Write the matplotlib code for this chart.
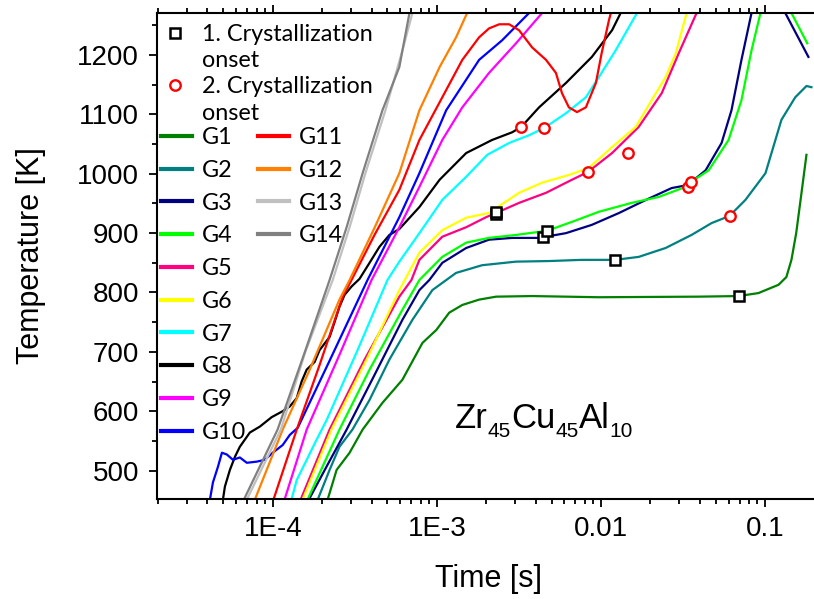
import matplotlib
matplotlib.use("Agg")
import matplotlib.pyplot as plt
from matplotlib.lines import Line2D
from matplotlib.ticker import FixedLocator, LogLocator, MultipleLocator, NullFormatter

plt.rcParams["font.family"] = ["Liberation Sans", "DejaVu Sans"]

# ---- cooling curves: time [s] and temperature [K] ----
t_G1 = [2.16e-4, 2.45e-4, 2.94e-4, 3.53e-4, 4.66e-4, 6.17e-4, 8.17e-4, 9.94e-4, 1.19e-3, 1.43e-3,
        1.81e-3, 2.30e-3, 3.81e-3, 9.7e-3, 3.94e-2, 6.90e-2, 9.12e-2, 0.121, 0.135, 0.145, 0.155, 0.167, 0.179]
T_G1 = [451, 501, 530, 569, 614, 653, 715, 737, 766, 779,
        788, 793, 794, 792, 793, 794, 799, 813, 826, 855, 900, 968, 1032]

t_G2 = [1.88e-4, 2.22e-4, 2.55e-4, 3.06e-4, 3.89e-4, 5.14e-4, 7.10e-4, 9.39e-4, 1.31e-3, 1.89e-3,
        3.04e-3, 4.83e-3, 7.66e-3, 1.22e-2, 1.70e-2, 2.48e-2, 3.57e-2, 4.73e-2, 6.08e-2, 7.60e-2,
        0.1007, 0.126, 0.153, 0.179, 0.192]
T_G2 = [451, 501, 540, 569, 619, 687, 754, 804, 833, 846,
        852, 853, 855, 855, 860, 875, 897, 917, 929, 956,
        1001, 1091, 1129, 1148, 1146]

t_G3 = [1.66e-4, 2.16e-4, 2.82e-4, 4.17e-4, 6.17e-4, 7.83e-4, 9.00e-4, 1.08e-3, 1.51e-3, 2.08e-3,
        2.88e-3, 4.20e-3, 6.12e-3, 8.81e-3, 1.29e-2, 1.88e-2, 2.70e-2, 3.38e-2, 4.35e-2, 5.44e-2,
        6.25e-2, 7.19e-2, 8.28e-2, 0.105, 0.133, 0.184]
T_G3 = [451, 510, 569, 661, 754, 804, 821, 850, 875, 889,
        892, 892, 900, 914, 934, 956, 976, 981, 1006, 1052,
        1107, 1192, 1271, 1320, 1271, 1197]

t_G4 = [1.63e-4, 2.55e-4, 3.89e-4, 6.17e-4, 7.83e-4, 1.08e-3, 1.51e-3, 2.08e-3, 3.04e-3, 4.70e-3,
        6.66e-3, 9.72e-3, 1.54e-2, 2.25e-2, 3.29e-2, 3.53e-2, 4.54e-2, 6.00e-2, 7.19e-2, 8.28e-2,
        9.39e-2, 0.12, 0.145, 0.181]
T_G4 = [451, 569, 670, 771, 821, 860, 884, 892, 897, 904,
        919, 936, 951, 961, 978, 986, 1006, 1057, 1124, 1208,
        1271, 1330, 1271, 1220]

t_G5 = [1.48e-4, 2.22e-4, 3.63e-4, 5.91e-4, 7.00e-4, 7.83e-4, 1.08e-3, 1.51e-3, 2.00e-3, 2.30e-3,
        3.17e-3, 4.63e-3, 6.66e-3, 8.33e-3, 1.17e-2, 1.70e-2, 2.35e-2, 2.98e-2, 3.83e-2]
T_G5 = [451, 569, 687, 793, 821, 855, 894, 910, 927, 934,
        951, 968, 990, 1003, 1035, 1079, 1136, 1203, 1271]

t_G6 = [1.52e-4, 2.28e-4, 3.73e-4, 5.91e-4, 7.83e-4, 1.08e-3, 1.51e-3, 2.08e-3, 3.17e-3, 4.38e-3,
        6.38e-3, 8.45e-3, 1.17e-2, 1.63e-2, 2.04e-2, 2.48e-2, 2.86e-2, 3.33e-2]
T_G6 = [451, 569, 687, 804, 867, 905, 926, 934, 968, 985,
        998, 1010, 1045, 1079, 1124, 1163, 1203, 1271]

t_G7 = [1.30e-4, 1.40e-4, 1.61e-4, 1.85e-4, 2.13e-4, 3.29e-4, 5.00e-4, 5.91e-4, 7.83e-4, 1.08e-3,
        1.51e-3, 2.03e-3, 2.76e-3, 3.65e-3, 4.50e-3, 6.12e-3, 8.10e-3, 9.72e-3, 1.23e-2, 1.66e-2]
T_G7 = [451, 484, 518, 552, 585, 703, 821, 852, 900, 956,
        995, 1032, 1052, 1065, 1077, 1102, 1129, 1163, 1208, 1271]

t_G8 = [4.97e-5, 5.11e-5, 5.48e-5, 5.88e-5, 6.30e-5, 7.25e-5, 8.34e-5, 9.86e-5, 1.15e-4, 1.27e-4,
        1.40e-4, 1.50e-4, 1.61e-4, 1.80e-4, 1.93e-4, 2.22e-4, 2.38e-4, 2.55e-4, 2.74e-4, 3.02e-4,
        3.38e-4, 3.89e-4, 4.47e-4, 5.14e-4, 5.91e-4, 7.83e-4, 1.04e-3, 1.51e-3, 2.17e-3, 2.88e-3,
        3.27e-3, 4.20e-3, 6.12e-3, 8.81e-3, 1.17e-2, 1.32e-2]
T_G8 = [451, 473, 501, 523, 540, 564, 574, 590, 600, 608,
        622, 650, 670, 683, 703, 725, 750, 776, 796, 810,
        823, 850, 877, 897, 907, 944, 990, 1035, 1057, 1070,
        1079, 1112, 1153, 1197, 1242, 1271]

t_G9 = [1.18e-4, 1.61e-4, 2.55e-4, 4.00e-4, 5.91e-4, 7.83e-4, 1.08e-3, 1.43e-3, 2.08e-3, 3.04e-3, 4.38e-3]
T_G9 = [451, 569, 695, 821, 910, 978, 1057, 1112, 1170, 1220, 1271]

t_G10 = [4.14e-5, 4.32e-5, 4.63e-5, 4.90e-5, 5.25e-5, 5.72e-5, 6.30e-5, 6.95e-5, 8.00e-5, 8.94e-5,
         1.00e-4, 1.15e-4, 1.27e-4, 1.42e-4, 2.22e-4, 3.78e-4, 5.91e-4, 7.83e-4, 1.14e-3, 1.81e-3,
         2.50e-3, 3.65e-3]
T_G10 = [451, 480, 506, 530, 527, 518, 522, 513, 515, 518,
         530, 543, 560, 572, 685, 821, 927, 1001, 1107, 1192,
         1225, 1271]

t_G11 = [1.01e-4, 1.40e-4, 1.93e-4, 2.67e-4, 3.02e-4, 4.17e-4, 5.91e-4, 7.83e-4, 1.08e-3, 1.43e-3,
         1.81e-3, 2.08e-3, 2.40e-3, 2.76e-3, 3.17e-3, 3.81e-3, 4.63e-3, 5.32e-3, 5.79e-3, 6.38e-3,
         7.15e-3, 8.10e-3, 9.32e-3, 1.01e-2, 1.12e-2, 1.16e-2]
T_G11 = [451, 569, 678, 793, 821, 897, 973, 1057, 1129, 1192,
         1230, 1245, 1252, 1252, 1242, 1213, 1192, 1170, 1136, 1112,
         1104, 1112, 1153, 1203, 1259, 1275]

t_G12 = [7.78e-5, 1.15e-4, 1.68e-4, 2.55e-4, 2.94e-4, 4.17e-4, 5.91e-4, 7.83e-4, 1.04e-3, 1.31e-3, 1.53e-3]
T_G12 = [451, 569, 670, 788, 821, 909, 1001, 1107, 1180, 1230, 1271]

t_G13 = [6.95e-5, 1.12e-4, 1.58e-4, 2.32e-4, 2.94e-4, 3.67e-4, 4.86e-4, 6.17e-4, 7.10e-4]
T_G13 = [451, 569, 700, 821, 910, 1001, 1107, 1208, 1271]

t_G14 = [6.67e-5, 1.07e-4, 1.57e-4, 2.22e-4, 2.82e-4, 3.53e-4, 4.66e-4, 5.91e-4, 6.81e-4]
T_G14 = [451, 569, 700, 821, 910, 1001, 1107, 1180, 1271]

curve_names = ["G1", "G2", "G3", "G4", "G5", "G6", "G7", "G8", "G9", "G10", "G11", "G12", "G13", "G14"]
curve_colors = ["#008000", "#008080", "#000080", "#00FF00", "#FF0080", "#FFFF00", "#00FFFF",
                "#000000", "#FF00FF", "#0000FF", "#FF0000", "#FF8000", "#C0C0C0", "#808080"]
curve_t = [t_G1, t_G2, t_G3, t_G4, t_G5, t_G6, t_G7, t_G8, t_G9, t_G10, t_G11, t_G12, t_G13, t_G14]
curve_T = [T_G1, T_G2, T_G3, T_G4, T_G5, T_G6, T_G7, T_G8, T_G9, T_G10, T_G11, T_G12, T_G13, T_G14]

# first and second crystallization onsets
onset1_t = [6.90e-2, 1.22e-2, 4.44e-3, 4.70e-3, 2.28e-3, 2.31e-3]
onset1_T = [794, 855, 894, 904, 933, 935]
onset2_t = [6.08e-2, 3.38e-2, 3.53e-2, 8.33e-3, 1.46e-2, 4.50e-3, 3.27e-3]
onset2_T = [929, 978, 986, 1003, 1035, 1077, 1079]

x_tick_values = [1e-4, 1e-3, 1e-2, 1e-1]
x_tick_labels = ["1E-4", "1E-3", "0.01", "0.1"]
y_tick_values = [500, 600, 700, 800, 900, 1000, 1100, 1200]

# alloy label pieces: (text, font size, baseline shift in px)
alloy_pieces = [("Zr", 25, 0), ("45", 15, -9), ("Cu", 25, 0), ("45", 15, -9), ("Al", 25, 0), ("10", 15, -9)]

fig = plt.figure(figsize=(8.14, 5.99), dpi=100)
ax = fig.add_axes([157 / 814, 100 / 599, 657 / 814, 486 / 599])

for t, T, c in zip(curve_t, curve_T, curve_colors):
    ax.plot(t, T, color=c, lw=1.6, solid_joinstyle="round")

sq_style = dict(ls="none", marker="s", ms=6.5, mfc="white", mec="black", mew=1.8)
ci_style = dict(ls="none", marker="o", ms=7.5, mfc="white", mec="#FF0000", mew=1.7)
ax.plot(onset1_t, onset1_T, zorder=5, **sq_style)
ax.plot(onset2_t, onset2_T, zorder=5, **ci_style)

ax.set_xscale("log")
ax.set_xlim(1.97e-5, 0.199)
ax.set_ylim(452, 1271)

ax.xaxis.set_major_locator(FixedLocator(x_tick_values))
ax.set_xticklabels(x_tick_labels)
ax.xaxis.set_minor_locator(LogLocator(base=10, subs=range(2, 10), numticks=20))
ax.xaxis.set_minor_formatter(NullFormatter())
ax.yaxis.set_major_locator(FixedLocator(y_tick_values))
ax.yaxis.set_minor_locator(MultipleLocator(50))

ax.tick_params(which="both", direction="out", width=1.3, labelsize=20, top=True, right=False)
ax.tick_params(which="major", length=6)
ax.tick_params(which="minor", length=3.5)
ax.tick_params(axis="x", which="major", pad=6.2)
ax.tick_params(axis="y", which="major", pad=7)
for side in ["left", "bottom", "top"]:
    ax.spines[side].set_linewidth(1.5)
ax.spines["right"].set_visible(False)

ax.set_xlabel("Time [s]", fontsize=22)
ax.set_ylabel("Temperature [K]", fontsize=22)
ax.xaxis.set_label_coords(0.504, -0.133)
ax.yaxis.set_label_coords(-0.169, 0.5)

# alloy label, assembled piece by piece on a common baseline
renderer = fig.canvas.get_renderer()
x_pix, y_pix = ax.transAxes.transform((0.4536, 0.146))
for s, fs, dy in alloy_pieces:
    txt = fig.text(x_pix / fig.bbox.width, (y_pix + dy) / fig.bbox.height, s,
                   fontsize=fs, ha="left", va="baseline")
    x_pix += txt.get_window_extent(renderer).width

# legends
leg_font = {"family": ["Lato", "DejaVu Sans"], "size": 16.8}
blank = Line2D([], [], ls="none")
onset_handles = [Line2D([], [], **sq_style), blank, Line2D([], [], **ci_style), blank]
onset_labels = ["1. Crystallization", "onset", "2. Crystallization", "onset"]
leg_a = ax.legend(onset_handles, onset_labels, loc="upper left", bbox_to_anchor=(0.0045, 0.977),
                  frameon=False, prop=leg_font, handlelength=1.33, handletextpad=0.48,
                  labelspacing=0.22, borderpad=0, borderaxespad=0)
ax.add_artist(leg_a)

g_handles = [Line2D([], [], color=c, lw=3) for c in curve_colors]
leg_b = ax.legend(g_handles[:10], curve_names[:10], loc="upper left", bbox_to_anchor=(0.0061, 0.7654),
                  frameon=False, prop=leg_font, handlelength=1.33, handletextpad=0.43,
                  labelspacing=0.504, borderpad=0, borderaxespad=0)
ax.add_artist(leg_b)
leg_c = ax.legend(g_handles[10:], curve_names[10:], loc="upper left", bbox_to_anchor=(0.1537, 0.7654),
                  frameon=False, prop=leg_font, handlelength=1.33, handletextpad=0.43,
                  labelspacing=0.504, borderpad=0, borderaxespad=0)

fig.savefig("out.png", dpi=100)
